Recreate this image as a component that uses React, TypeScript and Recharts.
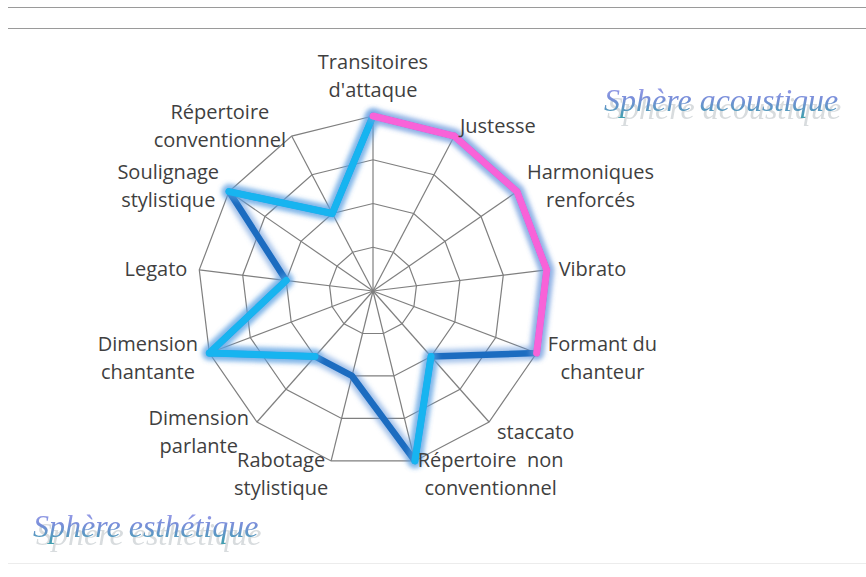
import React from 'react';
import { RadarChart, Radar, PolarGrid, PolarAngleAxis, PolarRadiusAxis } from 'recharts';

const categories = [
  "Transitoires\nd'attaque",
  'Justesse',
  'Harmoniques\nrenforcés',
  'Vibrato',
  'Formant du\nchanteur',
  'staccato',
  'Répertoire  non\nconventionnel',
  'Rabotage\nstylistique',
  'Dimension\nparlante',
  'Dimension\nchantante',
  'Legato',
  'Soulignage\nstylistique',
  'Répertoire\nconventionnel',
];

// full profile (dark blue, drawn underneath)
const profil = [4, 4, 4, 4, 4, 2, 4, 2, 2, 4, 2, 4, 2];
// light blue segments
const esthetiqueA = [null, null, null, null, null, 2, 4, null, 2, 4, 2, null, null];
const esthetiqueB = [4, null, null, null, null, null, null, null, null, null, null, 4, 2];
// pink segments
const acoustique = [4, 4, 4, 4, 4, null, null, null, null, null, null, null, null];

const radiusTicks = [0, 1, 2, 3, 4];

const data = categories.map((axe, i) => ({
  axe,
  profil: profil[i],
  esthetiqueA: esthetiqueA[i],
  esthetiqueB: esthetiqueB[i],
  acoustique: acoustique[i],
}));

const FONT = '"Open Sans", sans-serif';
const FONT_SIZE = 20;
const LINE_H = 28;

let ctx: CanvasRenderingContext2D | null = null;
const measure = (t: string) => {
  if (!ctx) ctx = document.createElement('canvas').getContext('2d');
  if (!ctx) return t.length * 10;
  ctx.font = `${FONT_SIZE}px ${FONT}`;
  return ctx.measureText(t).width;
};

const AxisLabel = (props: any) => {
  const { x, y, payload, textAnchor } = props;
  const lines = String(payload.value).split('\n');
  const a = (payload.coordinate * Math.PI) / 180;
  const qx = x + 4 * Math.cos(a);
  const qy = y - 4 * Math.sin(a);
  const w = Math.max(...lines.map(measure));
  const halfH = (lines.length * LINE_H) / 2;
  let mx = qx;
  let my = qy + 1;
  if (textAnchor === 'start') mx = qx + w / 2;
  else if (textAnchor === 'end') mx = qx - w / 2;
  else my = Math.sin(a) > 0 ? qy - halfH : qy + halfH;
  const first = my - ((lines.length - 1) * LINE_H) / 2;
  return (
    <text
      textAnchor="middle"
      fontFamily={FONT}
      fontSize={FONT_SIZE}
      fill="#3f3f3f"
      style={{ whiteSpace: 'pre' }}
    >
      {lines.map((l, i) => (
        <tspan key={i} x={mx} y={first + i * LINE_H + 7}>
          {l}
        </tspan>
      ))}
    </text>
  );
};

const ok = (p: any) => p && p.value != null && Number.isFinite(p.x) && Number.isFinite(p.y);

const makeShape = (id: string, color: string, width: number, glow: string) => (props: any) => {
  const pts = props.points || [];
  const n = pts.length;
  let d = '';
  for (let i = 0; i < n; i++) {
    const p = pts[i];
    const q = pts[(i + 1) % n];
    if (ok(p) && ok(q)) d += `M${p.x},${p.y}L${q.x},${q.y}`;
  }
  return (
    <g>
      <defs>
        <filter id={`glow-${id}`} x="-20%" y="-20%" width="140%" height="140%">
          <feGaussianBlur stdDeviation="2.5" />
        </filter>
      </defs>
      <path d={d} fill="none" stroke={glow} strokeOpacity={0.55} strokeWidth={width + 7} strokeLinecap="round" strokeLinejoin="round" filter={`url(#glow-${id})`} />
      <path d={d} fill="none" stroke={color} strokeWidth={width} strokeLinecap="round" strokeLinejoin="round" />
    </g>
  );
};

const shapeProfil = makeShape('profil', '#1C6CC0', 6.5, '#5a8fd8');
const shapeA = makeShape('a', '#17B4F0', 7, '#5aa8e8');
const shapeB = makeShape('b', '#17B4F0', 7, '#5aa8e8');
const shapeAc = makeShape('ac', '#F862D8', 7, '#7aa0e0');

const Sphere = ({ text, left, top, id }: { text: string; left: number; top: number; id: string }) => (
  <svg width={300} height={60} style={{ position: 'absolute', left, top, overflow: 'visible' }}>
    <defs>
      <linearGradient id={`grad-${id}`} x1="0" y1="0" x2="0" y2="1">
        <stop offset="0%" stopColor="#a6a2ee" />
        <stop offset="45%" stopColor="#7a8fda" />
        <stop offset="100%" stopColor="#3f9fae" />
      </linearGradient>
      <filter id={`refl-${id}`} x="-10%" y="-30%" width="120%" height="180%">
        <feOffset in="SourceAlpha" dx="3" dy="8" result="off" />
        <feGaussianBlur in="off" stdDeviation="0.6" result="blur" />
        <feFlood floodColor="#7a8790" floodOpacity="0.3" />
        <feComposite in2="blur" operator="in" result="shadow" />
        <feMerge>
          <feMergeNode in="shadow" />
          <feMergeNode in="SourceGraphic" />
        </feMerge>
      </filter>
    </defs>
    <text
      x={0}
      y={27}
      fontFamily='"Liberation Serif", serif'
      fontStyle="italic"
      fontSize={32}
      fill={`url(#grad-${id})`}
      filter={`url(#refl-${id})`}
    >
      {text}
    </text>
  </svg>
);

export default function App() {
  return (
    <div style={{ position: 'absolute', left: 0, top: 0, width: 866, height: 577, background: '#fff', overflow: 'hidden' }}>
      <div style={{ position: 'absolute', left: 8, top: 7, width: 858, height: 0, borderTop: '1.5px solid #9a9a9a' }} />
      <div style={{ position: 'absolute', left: 8, top: 28, width: 858, height: 0, borderTop: '1.5px solid #9a9a9a' }} />
      <div style={{ position: 'absolute', left: 8, top: 563, width: 858, height: 0, borderTop: '1px solid #ececec' }} />
      <div style={{ position: 'absolute', left: 0, top: 0 }}>
        <RadarChart width={866} height={577} data={data} cx={373} cy={291} outerRadius={175} margin={{ top: 0, right: 0, bottom: 0, left: 0 }}>
          <PolarGrid gridType="polygon" stroke="#7f7f7f" strokeWidth={1.2} />
          <PolarAngleAxis dataKey="axe" tick={<AxisLabel />} tickLine={false} axisLine={false} />
          <PolarRadiusAxis domain={[0, 4]} ticks={radiusTicks as any} tickCount={5} tick={false} axisLine={false} />
          <Radar dataKey="profil" stroke="#1C6CC0" fill="none" dot={false} isAnimationActive={false} shape={shapeProfil} />
          <Radar dataKey="esthetiqueA" stroke="#17B4F0" fill="none" dot={false} isAnimationActive={false} shape={shapeA} />
          <Radar dataKey="esthetiqueB" stroke="#17B4F0" fill="none" dot={false} isAnimationActive={false} shape={shapeB} />
          <Radar dataKey="acoustique" stroke="#F862D8" fill="none" dot={false} isAnimationActive={false} shape={shapeAc} />
        </RadarChart>
      </div>
      <Sphere id="ac" text="Sphère acoustique" left={604} top={84} />
      <Sphere id="es" text="Sphère esthétique" left={33} top={510} />
    </div>
  );
}
